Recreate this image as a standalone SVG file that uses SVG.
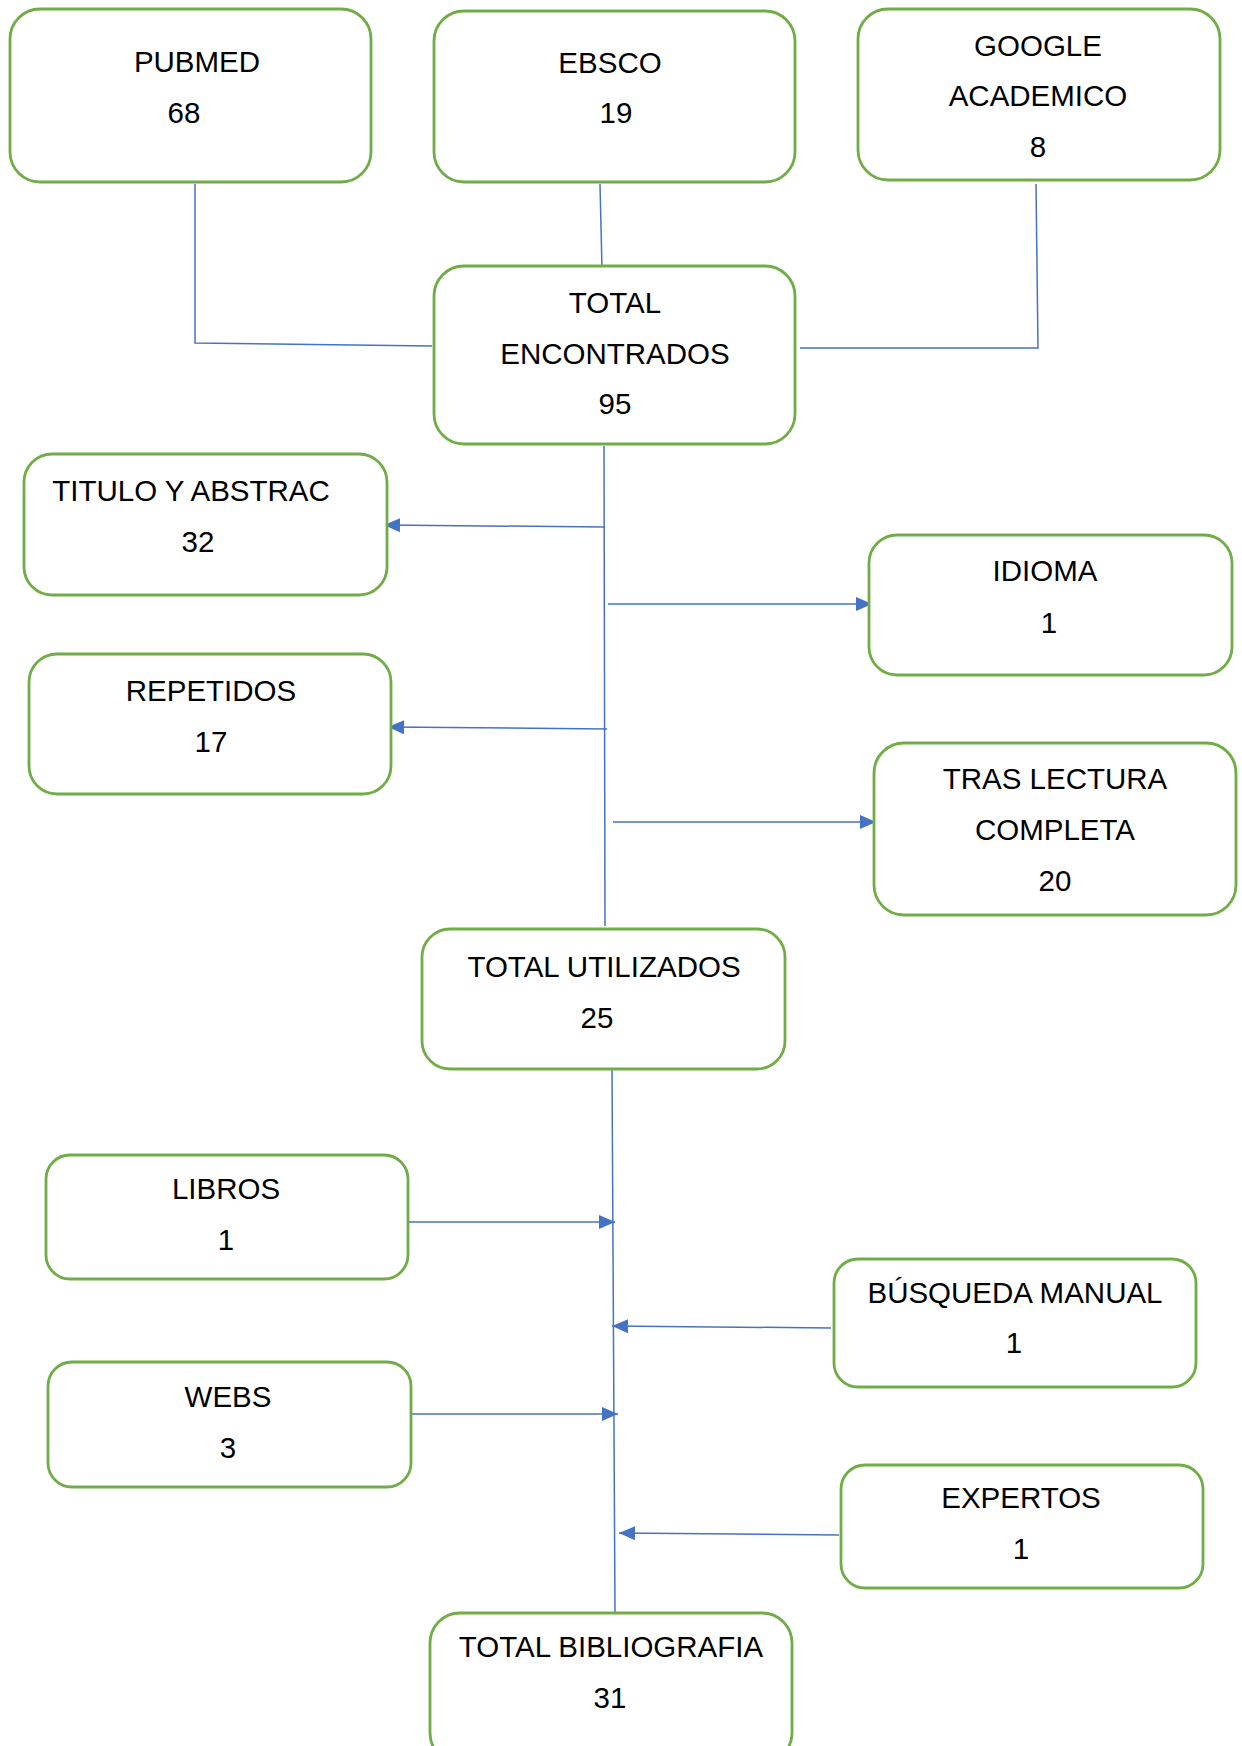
<svg xmlns="http://www.w3.org/2000/svg" width="1242" height="1746" viewBox="0 0 1242 1746">
<style>
.box{fill:#fff;stroke:#70AD47;stroke-width:2.8}
.t{font-family:"Liberation Sans",Arial,sans-serif;font-size:29.5px;fill:#000;text-anchor:middle}
.c{fill:none;stroke:#4472C4;stroke-width:1.5}
.a{fill:none;stroke:#4472C4;stroke-width:1.5;marker-end:url(#ah)}
</style>
<defs>
<marker id="ah" markerUnits="userSpaceOnUse" markerWidth="18" markerHeight="18" viewBox="0 0 18 18" refX="16" refY="9" orient="auto">
<path d="M0,2 L16,9 L0,16 Z" fill="#4472C4"/>
</marker>
</defs>
<rect width="1242" height="1746" fill="#fff"/>
<g id="connectors">
<polyline class="c" points="195,184 195,343 432,346"/>
<line class="c" x1="600" y1="184" x2="602" y2="269"/>
<polyline class="c" points="1036,184 1038,348 800,348"/>
<line class="c" x1="604" y1="446" x2="605" y2="926"/>
<line class="a" x1="605" y1="527" x2="384" y2="525"/>
<line class="a" x1="608" y1="604" x2="872" y2="604"/>
<line class="a" x1="607" y1="729" x2="388" y2="727"/>
<line class="a" x1="613" y1="822" x2="876" y2="822"/>
<line class="c" x1="612" y1="1067" x2="615" y2="1613"/>
<line class="a" x1="403" y1="1222" x2="615" y2="1222"/>
<line class="a" x1="831" y1="1328" x2="612" y2="1326"/>
<line class="a" x1="408" y1="1414" x2="618" y2="1414"/>
<line class="a" x1="839" y1="1535" x2="619" y2="1533"/>
</g>
<g id="pubmed">
<rect class="box" x="10" y="9" width="361" height="173" rx="30"/>
<text class="t" x="197" y="72">PUBMED</text>
<text class="t" x="184" y="123">68</text>
</g>
<g id="ebsco">
<rect class="box" x="434" y="11" width="361" height="171" rx="30"/>
<text class="t" x="610" y="73">EBSCO</text>
<text class="t" x="616" y="123">19</text>
</g>
<g id="google">
<rect class="box" x="858" y="9" width="362" height="171" rx="30"/>
<text class="t" x="1038" y="56">GOOGLE</text>
<text class="t" x="1038" y="106">ACADEMICO</text>
<text class="t" x="1038" y="157">8</text>
</g>
<g id="total-encontrados">
<rect class="box" x="434" y="266" width="361" height="178" rx="30"/>
<text class="t" x="615" y="313">TOTAL</text>
<text class="t" x="615" y="364">ENCONTRADOS</text>
<text class="t" x="615" y="414">95</text>
</g>
<g id="titulo">
<rect class="box" x="24" y="454" width="363" height="141" rx="28"/>
<text class="t" x="191" y="501">TITULO Y ABSTRAC</text>
<text class="t" x="198" y="552">32</text>
</g>
<g id="idioma">
<rect class="box" x="869" y="535" width="363" height="140" rx="28"/>
<text class="t" x="1045" y="581">IDIOMA</text>
<text class="t" x="1049" y="633">1</text>
</g>
<g id="repetidos">
<rect class="box" x="29" y="654" width="362" height="140" rx="28"/>
<text class="t" x="211" y="701">REPETIDOS</text>
<text class="t" x="211" y="752">17</text>
</g>
<g id="tras-lectura">
<rect class="box" x="874" y="743" width="362" height="172" rx="30"/>
<text class="t" x="1055" y="789">TRAS LECTURA</text>
<text class="t" x="1055" y="840">COMPLETA</text>
<text class="t" x="1055" y="891">20</text>
</g>
<g id="total-utilizados">
<rect class="box" x="422" y="929" width="363" height="140" rx="28"/>
<text class="t" x="604" y="977">TOTAL UTILIZADOS</text>
<text class="t" x="597" y="1028">25</text>
</g>
<g id="libros">
<rect class="box" x="46" y="1155" width="362" height="124" rx="24"/>
<text class="t" x="226" y="1199">LIBROS</text>
<text class="t" x="226" y="1250">1</text>
</g>
<g id="busqueda">
<rect class="box" x="834" y="1259" width="362" height="128" rx="24"/>
<text class="t" x="1015" y="1303">BÚSQUEDA MANUAL</text>
<text class="t" x="1014" y="1353">1</text>
</g>
<g id="webs">
<rect class="box" x="48" y="1362" width="363" height="125" rx="24"/>
<text class="t" x="228" y="1407">WEBS</text>
<text class="t" x="228" y="1458">3</text>
</g>
<g id="expertos">
<rect class="box" x="841" y="1465" width="362" height="123" rx="24"/>
<text class="t" x="1021" y="1508">EXPERTOS</text>
<text class="t" x="1021" y="1559">1</text>
</g>
<g id="total-bibliografia">
<rect class="box" x="430" y="1613" width="362" height="150" rx="30"/>
<text class="t" x="611" y="1657">TOTAL BIBLIOGRAFIA</text>
<text class="t" x="610" y="1708">31</text>
</g>
</svg>
